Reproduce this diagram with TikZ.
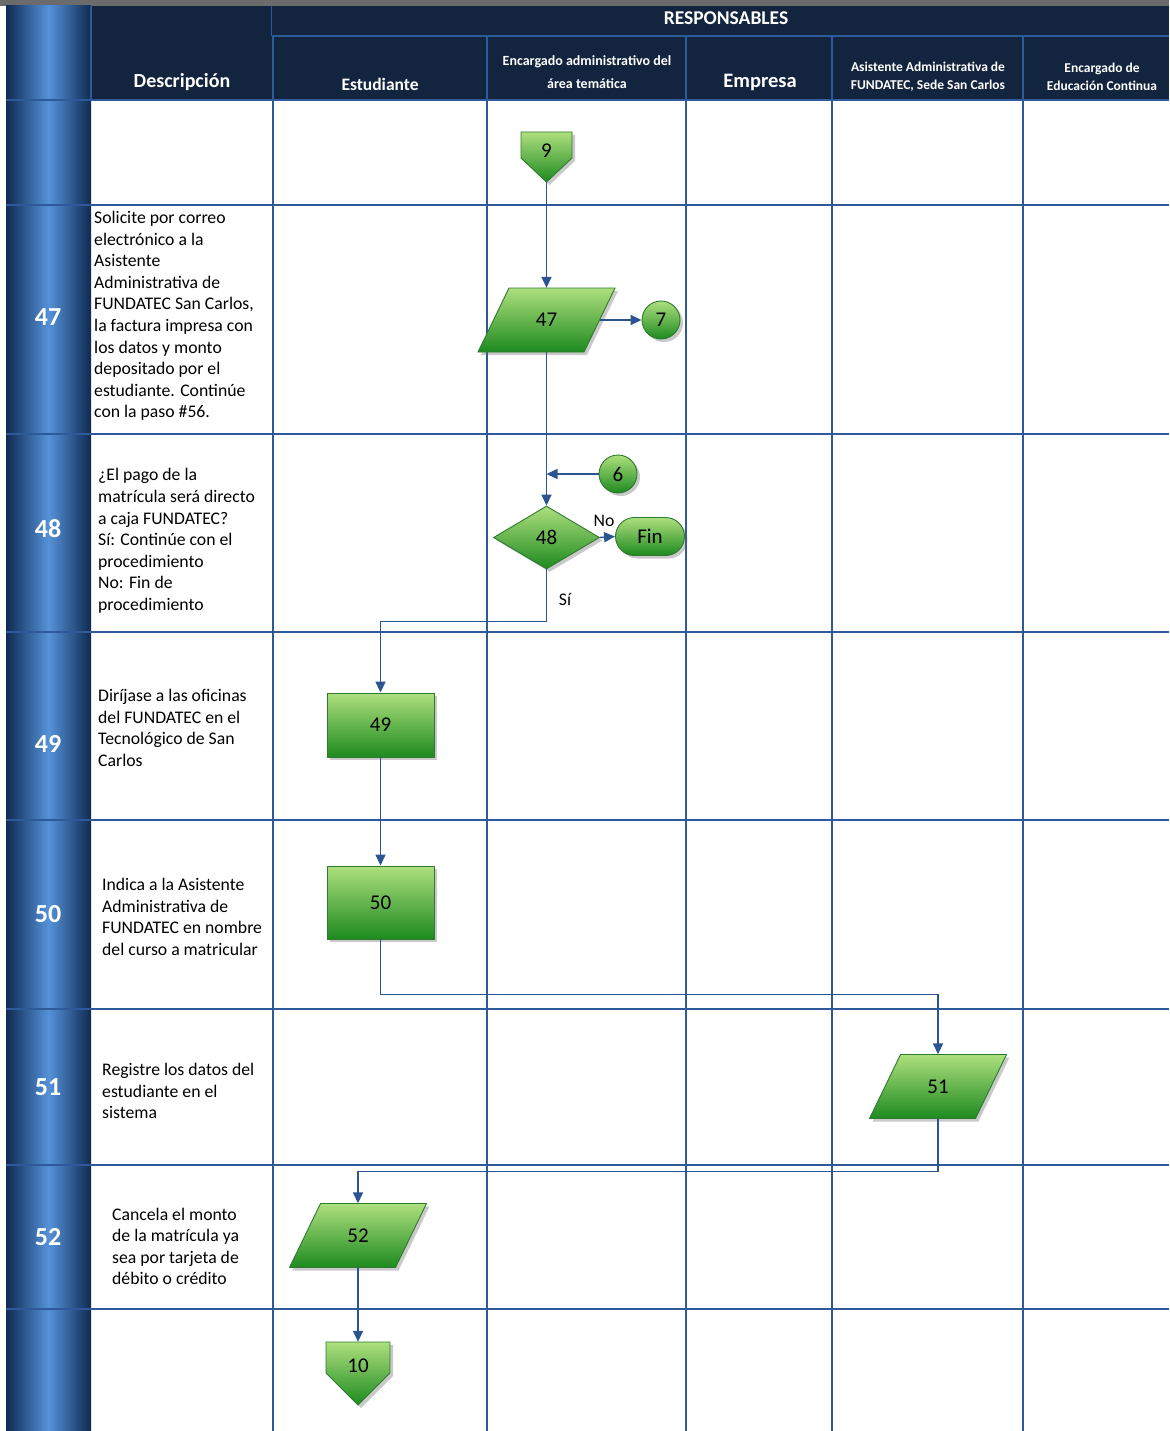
\documentclass[tikz,border=0pt]{standalone}
\usepackage{fontspec}
\setmainfont{Carlito}
\usetikzlibrary{arrows.meta,shapes.geometric,shadows}
\definecolor{navy}{HTML}{13243F}
\definecolor{barg}{HTML}{6B6B6B}
\definecolor{gridc}{HTML}{2E5A9C}
\definecolor{connc}{HTML}{2A5591}
\definecolor{colD}{HTML}{0F2A52}
\definecolor{colL}{HTML}{5592DA}
\definecolor{gtop}{HTML}{AEDF7E}
\definecolor{gbot}{HTML}{1D8A1F}
\definecolor{gedge}{HTML}{2F7A2F}
\tikzset{
  gridline/.style={draw=gridc, line width=1.3pt},
  link/.style={draw=connc, line width=1.5pt, -{Triangle[length=11pt,width=10pt]}},
  gshape/.style={draw=gedge, line width=0.9pt, top color=gtop, bottom color=gbot,
    drop shadow={shadow xshift=3pt, shadow yshift=-3pt, opacity=0.35, fill=black!60}},
  symfont/.style={font=\fontsize{21}{24}\selectfont},
  lbl/.style={symfont, text=black, inner sep=0pt},
  hit/.style={rectangle, inner sep=0pt},
  desc/.style={anchor=west, align=left, inner sep=0pt, font=\fontsize{17.7}{21.6}\selectfont},
  rownum/.style={text=white, inner sep=0pt, font=\bfseries\fontsize{26}{28}\selectfont},
  hdr/.style={text=white, inner sep=0pt, align=center},
}
% parallelogram (data) symbol centred at (#2,#3)
\newcommand{\paranode}[4]{%
  \path[gshape] ({#2-37.5},{#3-32}) -- ({#2+68.5},{#3-32}) -- ({#2+37.5},{#3+32}) -- ({#2-68.5},{#3+32}) -- cycle;
  \node[hit, minimum width=106pt, minimum height=64pt, symfont] (#1) at (#2,#3) {#4};
}
\begin{document}
\begin{tikzpicture}[x=1pt,y=-1pt]
\useasboundingbox (0,0) rectangle (1169,1431);
\fill[white] (0,0) rectangle (1169,1431);
% top bar and header band
\fill[barg] (0,0) rectangle (1169,6);
\fill[navy] (91,6) rectangle (1169,100);
% left numbering column
\shade[left color=colD, right color=colD, middle color=colL] (6,6) rectangle (91,1431);
% grid
\foreach \yy in {100,205,434,632,820,1009,1165,1309}
  \draw[gridline] (6,\yy) -- (1169,\yy);
\draw[gridline] (271.5,36) -- (1169,36);
\draw[gridline] (271.5,6) -- (271.5,36);
\draw[gridline] (91,6) -- (91,100);
\foreach \xx in {273,487,686,832,1023}
  \draw[gridline] (\xx,36) -- (\xx,1431);

% header texts
\node[hdr, font=\bfseries\fontsize{19.5}{22}\selectfont] (hresp) at (726,18) {RESPONSABLES};
\node[hdr, font=\bfseries\fontsize{20}{22}\selectfont] (hdesc) at (182,82) {Descripción};
\node[hdr, font=\bfseries\fontsize{17.5}{20}\selectfont] (hest) at (380,84) {Estudiante};
\node[hdr, font=\bfseries\fontsize{14}{23}\selectfont] (henc) at (587,72) {Encargado administrativo del\\área temática};
\node[hdr, font=\bfseries\fontsize{20.5}{22}\selectfont] (hemp) at (760,82) {Empresa};
\node[hdr, font=\bfseries\fontsize{13.5}{18}\selectfont] (hasi) at (928,77) {Asistente Administrativa de\\FUNDATEC, Sede San Carlos};
\node[hdr, font=\bfseries\fontsize{13.5}{18}\selectfont] (hedu) at (1102,77) {Encargado de\\Educación Continua};

% step numbers
\node[rownum] (n47) at (48,317) {47};
\node[rownum] (n48) at (48,529) {48};
\node[rownum] (n49) at (48,744) {49};
\node[rownum] (n50) at (48,914) {50};
\node[rownum] (n51) at (48,1087) {51};
\node[rownum] (n52) at (48,1237) {52};

% descriptions
\node[desc] (d47t) at (94,316) {Solicite por correo\\electrónico a la\\Asistente\\Administrativa de\\FUNDATEC San Carlos,\\la factura impresa con\\los datos y monto\\depositado por el\\estudiante. Continúe\\con la paso \#56.};
\node[desc] (d48t) at (98,541) {¿El pago de la\\matrícula será directo\\a caja FUNDATEC?\\Sí: Continúe con el\\procedimiento\\No: Fin de\\procedimiento};
\node[desc] (d49t) at (98,728) {Diríjase a las oficinas\\del FUNDATEC en el\\Tecnológico de San\\Carlos};
\node[desc] (d50t) at (102,917) {Indica a la Asistente\\Administrativa de\\FUNDATEC en nombre\\del curso a matricular};
\node[desc] (d51t) at (102,1091) {Registre los datos del\\estudiante en el\\sistema};
\node[desc] (d52t) at (112,1246.5) {Cancela el monto\\de la matrícula ya\\sea por tarjeta de\\débito o crédito};

% flow symbols
\path[gshape] (521,132) -- (572,132) -- (572,158) -- (546.5,182) -- (521,158) -- cycle;
\node[hit, minimum width=51pt, minimum height=50pt] (o9) at (546.5,157) {};
\node[lbl] (t9) at (546.5,151) {9};

\paranode{p47}{546.5}{320}{47}
\node[circle, gshape, minimum size=38pt, inner sep=0pt, symfont] (c7) at (661,320) {7};
\node[circle, gshape, minimum size=38pt, inner sep=0pt, symfont] (c6) at (618,474) {6};
\node[diamond, gshape, minimum width=106pt, minimum height=63pt, inner sep=0pt, symfont] (d48) at (546.5,537.5) {48};
\node[rectangle, rounded corners=19pt, gshape, minimum width=69pt, minimum height=38pt, inner sep=0pt, symfont] (fin) at (650,536.5) {Fin};
\node[rectangle, gshape, minimum width=107pt, minimum height=64pt, inner sep=0pt, symfont] (r49) at (380.5,725) {49};
\node[rectangle, gshape, minimum width=107pt, minimum height=73pt, inner sep=0pt, symfont] (r50) at (380.5,902.5) {50};
\paranode{p51}{938}{1086.5}{51}
\paranode{p52}{358}{1235.5}{52}
\path[gshape] (326,1342) -- (390,1342) -- (390,1373) -- (358,1405) -- (326,1373) -- cycle;
\node[hit, minimum width=64pt, minimum height=63pt] (o10) at (358,1373.5) {};
\node[lbl] (t10) at (358,1366) {10};

% connectors
\draw[link] (o9.south) -- (p47.north);
\draw[link] (p47.east) -- (c7.west);
\draw[link] (p47.south) -- (d48.north);
\draw[link] (c6.west) -- (c6.west -| p47.south);
\draw[link] (d48.east) -- (fin.west);
\node[font=\fontsize{17.7}{20}\selectfont, inner sep=0pt] (lno) at (604,521) {No};
\draw[link] (d48.south) -- ++(0,52) -| (r49.north);
\node[font=\fontsize{17.7}{20}\selectfont, inner sep=0pt] (lsi) at (565,600) {Sí};
\draw[link] (r49.south) -- (r50.north);
\draw[link] (r50.south) -- ++(0,55) -| (p51.north);
\draw[link] (p51.south) -- ++(0,53) -| (p52.north);
\draw[link] (p52.south) -- (o10.north);
\end{tikzpicture}
\end{document}
